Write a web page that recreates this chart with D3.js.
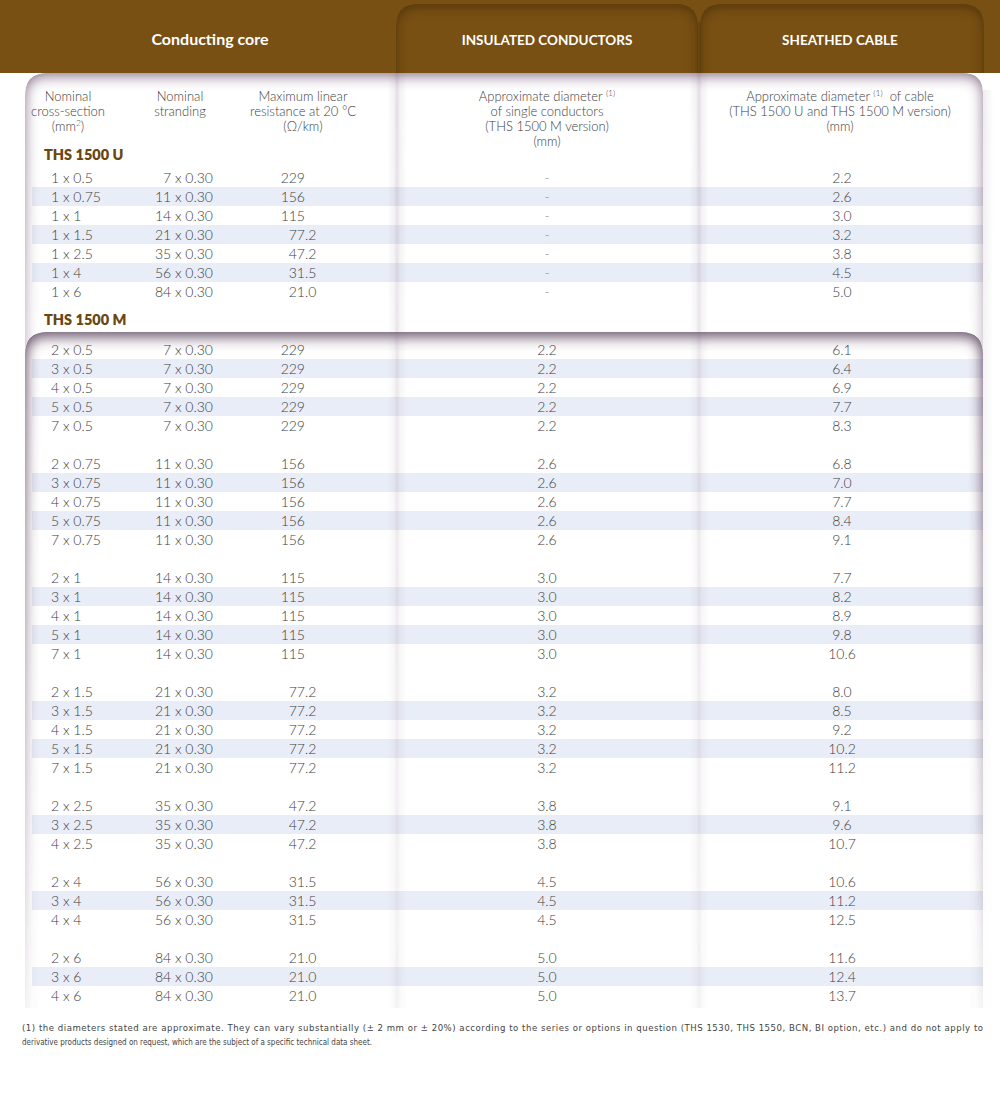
<!DOCTYPE html>
<html><head><meta charset="utf-8">
<script src="https://cdn.jsdelivr.net/npm/d3@7"></script>
<style>body{margin:0;background:#fff}svg{display:block}</style>
</head><body><svg id="c" width="1000" height="1115"></svg>
<script>
// ---------- data ----------
const sections = ["0.5","0.75","1","1.5","2.5","4","6"];
const stranding = ["7 x 0.30","11 x 0.30","14 x 0.30","21 x 0.30","35 x 0.30","56 x 0.30","84 x 0.30"];
const resistance = ["229","156","115","77.2","47.2","31.5","21.0"];
const singleDiamU = ["-","-","-","-","-","-","-"];
const singleDiamM = ["2.2","2.6","3.0","3.2","3.8","4.5","5.0"];
const cableDiamU = ["2.2","2.6","3.0","3.2","3.8","4.5","5.0"];
const coresM = [[2,3,4,5,7],[2,3,4,5,7],[2,3,4,5,7],[2,3,4,5,7],[2,3,4],[2,3,4],[2,3,4]];
const cableDiamM = [
  ["6.1","6.4","6.9","7.7","8.3"],
  ["6.8","7.0","7.7","8.4","9.1"],
  ["7.7","8.2","8.9","9.8","10.6"],
  ["8.0","8.5","9.2","10.2","11.2"],
  ["9.1","9.6","10.7"],
  ["10.6","11.2","12.5"],
  ["11.6","12.4","13.7"]
];
const headers = ["Conducting core","INSULATED CONDUCTORS","SHEATHED CABLE"];
// segments wrapped in {} are superscripts
const subHeaders = [
  ["Nominal","cross-section","(mm{2})"],
  ["Nominal","stranding"],
  ["Maximum linear","resistance at 20 °C","(Ω/km)"],
  ["Approximate diameter {(1)}","of single conductors","(THS 1500 M version)","(mm)"],
  ["Approximate diameter {(1)}  of cable","(THS 1500 U and THS 1500 M version)","(mm)"]
];
const groupLabels = ["THS 1500 U","THS 1500 M"];
const footnote = [
  "(1) the diameters stated are approximate. They can vary substantially (± 2 mm or ± 20%) according to the series or options in question (THS 1530, THS 1550, BCN, BI option, etc.) and do not apply to",
  "derivative products designed on request, which are the subject of a specific technical data sheet."
];

// ---------- build rows ----------
const rowsU = sections.map((s,i)=>({cross:`1 x ${s}`, strand:stranding[i], res:resistance[i], single:singleDiamU[i], cable:cableDiamU[i], slot:i, stripe:i%2===1}));
const rowsM = [];
let off = 0;
coresM.forEach((cs,g)=>{
  cs.forEach((n,r)=>rowsM.push({cross:`${n} x ${sections[g]}`, strand:stranding[g], res:resistance[g], single:singleDiamM[g], cable:cableDiamM[g][r], slot:off+r, stripe:r%2===1}));
  off += cs.length + 1;
});

// ---------- layout ----------
const W = 1000, BROWN = "#785013", TEXT = "#3e3e3e";
const FONT = "Lato, 'Open Sans', 'Noto Sans', sans-serif";
const yU = d3.scaleLinear().domain([0,6]).range([178,292]);
const yM = d3.scaleLinear().domain([0,34]).range([350,996]);
const rowH = 19;
const col = {cross:51, strand:213, res:305, single:547, cable:842};

const svg = d3.select("#c");
const defs = svg.append("defs");

function innerFilter(id, color, sd, dy){
  const f = defs.append("filter").attr("id",id).attr("x",-0.1).attr("y",-0.1).attr("width",1.2).attr("height",1.2);
  f.append("feGaussianBlur").attr("in","SourceAlpha").attr("stdDeviation",sd).attr("result","b");
  f.append("feOffset").attr("in","b").attr("dy",dy).attr("result","ob");
  f.append("feComposite").attr("in","SourceAlpha").attr("in2","ob").attr("operator","arithmetic").attr("k2",1).attr("k3",-1).attr("result","edge");
  f.append("feFlood").attr("flood-color",color).attr("result","col");
  f.append("feComposite").attr("in","col").attr("in2","edge").attr("operator","in");
}
innerFilter("innerBody","#6a4f6c",7,3);
innerFilter("innerM","#4e3450",7,5);
innerFilter("innerTab","#2e1a02",6,3);

function fadeMask(id, y0, y1, a0, a1){
  const g = defs.append("linearGradient").attr("id",id+"g").attr("gradientUnits","userSpaceOnUse").attr("x1",0).attr("x2",0).attr("y1",y0).attr("y2",y1);
  g.append("stop").attr("offset",0).attr("stop-color","#fff").attr("stop-opacity",a0);
  g.append("stop").attr("offset",0.3).attr("stop-color","#fff").attr("stop-opacity",a0*0.55+a1*0.45);
  g.append("stop").attr("offset",1).attr("stop-color","#fff").attr("stop-opacity",a1);
  defs.append("mask").attr("id",id).attr("maskUnits","userSpaceOnUse").attr("x",0).attr("y",0).attr("width",W).attr("height",1115)
    .append("rect").attr("x",0).attr("y",y0-20).attr("width",W).attr("height",y1-y0+40).attr("fill",`url(#${id}g)`);
}
fadeMask("mTop",73,1010,1,0.06);
fadeMask("mM",332,1010,1,0.1);
fadeMask("mDiv",73,1010,1,0.4);

defs.append("clipPath").attr("id","bodyClip").append("rect").attr("x",0).attr("y",0).attr("width",W).attr("height",1008);

const divGrad = defs.append("linearGradient").attr("id","divG").attr("x1",0).attr("x2",1).attr("y1",0).attr("y2",0);
[[0,0],[0.35,0.08],[0.5,0.2],[0.65,0.08],[1,0]].forEach(([o,a])=>divGrad.append("stop").attr("offset",o).attr("stop-color","#6e5270").attr("stop-opacity",a));

// header band
svg.append("rect").attr("x",0).attr("y",0).attr("width",W).attr("height",73).attr("fill",BROWN);
const tabs = [[396,698],[700,984]];
const tabPath = ([x0,x1])=>{const y0=4,y1=73,r=22;return `M${x0},${y1+12}V${y0+r}Q${x0},${y0} ${x0+r},${y0}H${x1-r}Q${x1},${y0} ${x1},${y0+r}V${y1+12}Z`;};
defs.append("clipPath").attr("id","tabClip").append("rect").attr("x",0).attr("y",0).attr("width",W).attr("height",73);
const tabG = svg.append("g").attr("clip-path","url(#tabClip)");
tabG.selectAll("path.tab").data(tabs).join("path").attr("d",tabPath).attr("fill",BROWN).attr("filter","url(#innerTab)").attr("opacity",0.5);

// stripes
const stripeData = rowsU.filter(d=>d.stripe).map(d=>yU(d.slot)).concat(rowsM.filter(d=>d.stripe).map(d=>yM(d.slot)));
svg.append("g").selectAll("rect").data(stripeData).join("rect")
  .attr("x",32).attr("width",951).attr("y",d=>d-rowH/2-0.5).attr("height",rowH).attr("fill","#e9edf7");

// panel shadows
const sh = svg.append("g").attr("clip-path","url(#bodyClip)");
const topPath = "M25,1060V95Q25,73 47,73H963Q983,73 983,93V1060Z";
const mPath = "M25,1060V354Q25,332 47,332H961Q983,332 983,354V1060Z";
sh.append("g").attr("mask","url(#mTop)").append("path").attr("d",topPath).attr("fill","#000").attr("filter","url(#innerBody)").attr("opacity",0.8);
sh.append("g").attr("mask","url(#mM)").append("path").attr("d",mPath).attr("fill","#000").attr("filter","url(#innerM)").attr("opacity",0.85);
sh.append("g").attr("mask","url(#mDiv)").selectAll("rect").data([397,699]).join("rect")
  .attr("x",d=>d-10).attr("width",20).attr("y",73).attr("height",940).attr("fill","url(#divG)");
const outG = defs.append("linearGradient").attr("id","outG").attr("x1",0).attr("x2",1).attr("y1",0).attr("y2",0);
[[0,0.12],[1,0]].forEach(([o,a])=>outG.append("stop").attr("offset",o).attr("stop-color","#6e5270").attr("stop-opacity",a));
sh.append("g").attr("mask","url(#mTop)").append("rect").attr("x",983).attr("y",90).attr("width",10).attr("height",920).attr("fill","url(#outG)");
svg.append("rect").attr("x",697.5).attr("y",22).attr("width",3).attr("height",51).attr("fill","#4a2f08").attr("opacity",0.3);

// header titles
const headX = [210,547,840];
svg.append("g").selectAll("text").data(headers).join("text")
  .attr("x",(d,i)=>headX[i]).attr("y",45).attr("text-anchor","middle")
  .attr("fill","#fff").attr("font-family",FONT).attr("font-weight",700)
  .attr("font-size",(d,i)=>i===0?16:13.5).text(d=>d);

// sub headers
const subX = [68,180,303,547,840];
function richText(sel, str){
  const parts = str.split(/(\{[^}]*\})/).filter(s=>s.length);
  let pending = 0;
  parts.forEach(p=>{
    if(p.startsWith("{")){ sel.append("tspan").attr("font-size",8.5).attr("dy",-5).text(p.slice(1,-1)); pending = 5; }
    else { sel.append("tspan").attr("dy",pending).text(p); pending = 0; }
  });
}
subHeaders.forEach((lines,i)=>{
  lines.forEach((ln,j)=>{
    const t = svg.append("text").attr("x",subX[i]).attr("y",101+j*15).attr("text-anchor","middle")
      .attr("fill",TEXT).attr("font-family",FONT).attr("font-weight",300).attr("font-size",13).attr("xml:space","preserve");
    richText(t, ln);
  });
});

// group labels
svg.append("g").selectAll("text").data(groupLabels).join("text")
  .attr("x",44).attr("y",(d,i)=>[160,325][i]).attr("fill","#6b4610")
  .attr("font-family",FONT).attr("font-weight",800).attr("font-size",14.5).text(d=>d);

// rows
function drawRows(rows, y){
  const g = svg.append("g").attr("font-family",FONT).attr("font-weight",300).attr("font-size",14).attr("fill",TEXT);
  const r = g.selectAll("g").data(rows).join("g").attr("transform",d=>`translate(0,${y(d.slot)+5})`);
  r.append("text").attr("x",col.cross).text(d=>d.cross);
  r.append("text").attr("x",col.strand).attr("text-anchor","end").text(d=>d.strand);
  r.append("text").attr("x",col.res).attr("text-anchor","end").text(d=>d.res.split(".")[0]);
  r.append("text").attr("x",col.res).text(d=>d.res.includes(".")?"."+d.res.split(".")[1]:"");
  r.append("text").attr("x",col.single).attr("text-anchor","middle").attr("fill",d=>d.single==="-"?"#888":TEXT).text(d=>d.single);
  r.append("text").attr("x",col.cable).attr("text-anchor","middle").text(d=>d.cable);
}
drawRows(rowsU, yU);
drawRows(rowsM, yM);

// footnote: line 1 justified to full width, line 2 natural width
const fn = svg.append("g").selectAll("text").data(footnote).join("text")
  .attr("x",22).attr("y",(d,i)=>1031+i*13.5)
  .attr("font-family","'Liberation Sans Narrow', 'DejaVu Sans Condensed', sans-serif").attr("font-size",9.5).attr("fill","#444")
  .text(d=>d);
fn.each(function(d,i){
  const w = this.getComputedTextLength();
  const target = i===0 ? 961 : Math.min(w, 350);
  if(i===0) d3.select(this).attr("textLength",target).attr("lengthAdjust", w<target?"spacing":"spacingAndGlyphs");
  else if(w>target) d3.select(this).attr("textLength",target).attr("lengthAdjust","spacingAndGlyphs");
});
</script></body></html>
